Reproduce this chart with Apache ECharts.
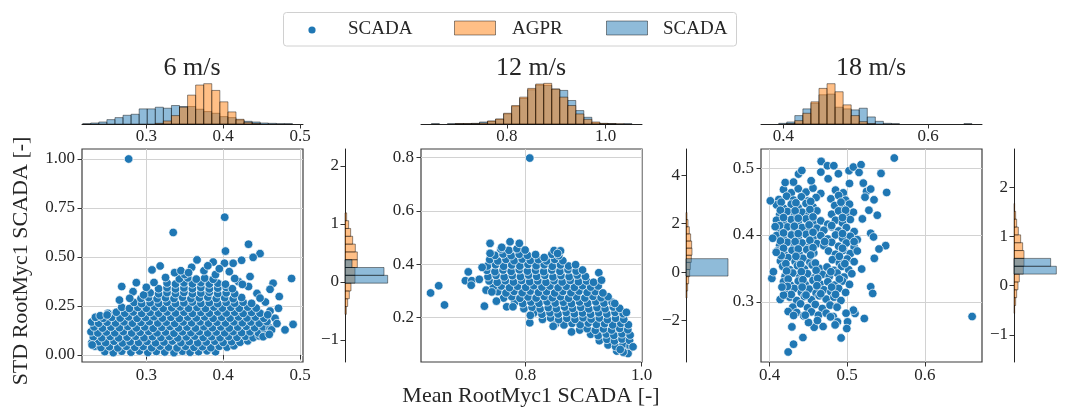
<!DOCTYPE html>
<html><head><meta charset="utf-8">
<script src="https://cdn.jsdelivr.net/npm/echarts@6.0.0/dist/echarts.min.js"></script>
<style>html,body{margin:0;padding:0;background:#fff}#c{width:1067px;height:410px}</style>
</head><body><div id="c"></div>
<script>
// ---------------- DATA ----------------
const titles = ['6 m/s', '12 m/s', '18 m/s'];
const xLabel = 'Mean RootMyc1 SCADA [-]';
const yLabel = 'STD RootMyc1 SCADA [-]';
const legendNames = ['SCADA', 'AGPR', 'SCADA'];

// tick labels
const xTicks6 = [0.3, 0.4, 0.5], yTicks6 = [0, 0.25, 0.5, 0.75, 1.0], hxTicks6 = [0.3, 0.4, 0.5], ryTicks6 = [-1, 0, 1, 2];
const xTicks12 = [0.8, 1.0], yTicks12 = [0.2, 0.4, 0.6, 0.8], hxTicks12 = [0.8, 1.0], ryTicks12 = [-2, 0, 2, 4];
const xTicks18 = [0.4, 0.5, 0.6], yTicks18 = [0.3, 0.4, 0.5], hxTicks18 = [0.4, 0.6], ryTicks18 = [-1, 0, 1, 2];

// top (mean) histograms: first bin edge, bin width, counts
const top6Start = 0.2172, top6Width = 0.0105;
const top6Scada = [1,3,6,13,19,26,29,45,45,50,47,55,52,52,44,37,32,22,19,12,8,6,3,2,1,1];
const top6Agpr  = [0,0,0,0,0,0,0,0,0,2,9,25,50,86,116,120,100,66,36,14,5,2,0,0,0,0];
const top12Start = 0.6466, top12Width = 0.01628;
const top12Scada = [1,0,1,1,1,2,6,8,14,30,52,76,102,116,115,104,100,70,40,20,3,1,1,0,1,0];
const top12Agpr  = [0,0,0,1,1,1,3,9,15,32,55,80,106,119,121,104,80,55,30,14,6,2,1,1,0,0];
const top18Start = 0.3935, top18Width = 0.01113;
const top18Scada = [2,6,25,45,62,87,89,50,45,42,47,21,8,2,1,0,0,0,0,0,0,0,0,1];
const top18Agpr  = [0,1,10,32,66,106,120,96,57,25,7,1,0,0,0,0,0,0,0,0,0,0,0,0];

// right (std) histograms
const right6AgprStart = -0.56, right6AgprWidth = 0.1345;
const right6Agpr = [4,8,13,18,30,30,37,37,31,23,17,11,5];
const right6ScadaStart = -0.022, right6ScadaWidth = 0.1345;
const right6Scada = [128,117,21];
const right12AgprStart = -1.07, right12AgprWidth = 0.294;
const right12Agpr = [3,5,8,11,13,16,18,17,14,10,6,3];
const right12ScadaStart = -0.166, right12ScadaWidth = 0.719;
const right12Scada = [126];
const right18AgprStart = -0.5615, right18AgprWidth = 0.1597;
const right18Agpr = [2,5,8,12,16,28,30,30,26,20,13,8,5,2];
const right18ScadaStart = 0.237, right18ScadaWidth = 0.1597;
const right18Scada = [127,110];

// scatter points [mean, std]
const scatter6 = [
[0.246,0.017],[0.257,0.012],[0.268,0.019],[0.280,0.014],[0.291,0.020],[0.302,0.013],[0.313,0.018],[0.324,0.015],[0.336,0.012],[0.347,0.019],[0.357,0.014],[0.368,0.017],[0.379,0.021],[0.390,0.016],
[0.233,0.045],[0.241,0.038],[0.252,0.042],[0.263,0.036],[0.274,0.044],[0.285,0.039],[0.296,0.043],[0.307,0.037],[0.318,0.045],[0.329,0.040],[0.340,0.036],[0.351,0.044],[0.362,0.039],[0.373,0.042],[0.384,0.037],[0.395,0.044],[0.405,0.040],[0.414,0.047],
[0.229,0.062],[0.238,0.068],[0.247,0.063],[0.258,0.070],[0.269,0.061],[0.279,0.067],[0.290,0.064],[0.301,0.069],[0.312,0.062],[0.323,0.066],[0.334,0.071],[0.345,0.063],[0.356,0.068],[0.367,0.062],[0.378,0.066],[0.389,0.070],[0.400,0.064],[0.411,0.068],[0.422,0.065],[0.432,0.072],
[0.231,0.092],[0.242,0.088],[0.253,0.094],[0.264,0.087],[0.275,0.091],[0.286,0.095],[0.297,0.088],[0.308,0.093],[0.319,0.089],[0.330,0.094],[0.341,0.087],[0.352,0.092],[0.363,0.096],[0.374,0.089],[0.385,0.093],[0.396,0.088],[0.407,0.094],[0.418,0.090],[0.429,0.095],[0.439,0.088],[0.447,0.097],
[0.228,0.118],[0.237,0.112],[0.248,0.117],[0.259,0.113],[0.270,0.119],[0.281,0.112],[0.292,0.116],[0.303,0.120],[0.314,0.113],[0.325,0.117],[0.336,0.111],[0.347,0.118],[0.358,0.114],[0.369,0.119],[0.380,0.112],[0.391,0.117],[0.402,0.113],[0.413,0.119],[0.424,0.114],[0.435,0.118],[0.446,0.112],[0.455,0.120],
[0.232,0.143],[0.243,0.137],[0.254,0.142],[0.265,0.139],[0.276,0.145],[0.287,0.138],[0.298,0.143],[0.309,0.136],[0.320,0.141],[0.331,0.145],[0.342,0.138],[0.353,0.142],[0.364,0.137],[0.375,0.144],[0.386,0.139],[0.397,0.143],[0.408,0.137],[0.419,0.142],[0.430,0.146],[0.441,0.139],[0.452,0.143],[0.461,0.137],
[0.229,0.168],[0.238,0.162],[0.249,0.167],[0.260,0.163],[0.271,0.169],[0.282,0.162],[0.293,0.166],[0.304,0.170],[0.315,0.163],[0.326,0.167],[0.337,0.161],[0.348,0.168],[0.359,0.164],[0.370,0.169],[0.381,0.162],[0.392,0.167],[0.403,0.163],[0.414,0.169],[0.425,0.164],[0.436,0.168],[0.447,0.162],[0.457,0.170],
[0.234,0.193],[0.244,0.187],[0.255,0.192],[0.266,0.188],[0.277,0.194],[0.288,0.187],[0.299,0.191],[0.310,0.195],[0.321,0.188],[0.332,0.192],[0.343,0.186],[0.354,0.193],[0.365,0.189],[0.376,0.194],[0.387,0.187],[0.398,0.192],[0.409,0.188],[0.420,0.194],[0.431,0.189],[0.442,0.193],[0.453,0.187],
[0.250,0.212],[0.261,0.218],[0.272,0.213],[0.283,0.219],[0.294,0.212],[0.305,0.217],[0.316,0.213],[0.327,0.219],[0.338,0.214],[0.349,0.218],[0.360,0.212],[0.371,0.217],[0.382,0.213],[0.393,0.219],[0.404,0.214],[0.415,0.218],[0.426,0.212],[0.437,0.217],[0.448,0.213],
[0.268,0.243],[0.278,0.237],[0.289,0.242],[0.300,0.238],[0.311,0.244],[0.322,0.237],[0.333,0.241],[0.344,0.245],[0.355,0.238],[0.366,0.242],[0.377,0.237],[0.388,0.244],[0.399,0.239],[0.410,0.243],[0.421,0.238],[0.432,0.244],[0.443,0.239],
[0.284,0.268],[0.294,0.262],[0.305,0.267],[0.316,0.263],[0.327,0.269],[0.338,0.262],[0.349,0.266],[0.360,0.270],[0.371,0.263],[0.382,0.267],[0.393,0.262],[0.404,0.268],[0.415,0.264],[0.426,0.269],[0.437,0.263],
[0.293,0.288],[0.303,0.293],[0.314,0.287],[0.325,0.292],[0.336,0.288],[0.347,0.294],[0.358,0.287],[0.369,0.291],[0.380,0.295],[0.391,0.288],[0.402,0.292],[0.413,0.287],[0.424,0.293],
[0.305,0.317],[0.316,0.312],[0.327,0.318],[0.338,0.313],[0.349,0.319],[0.360,0.312],[0.371,0.316],[0.382,0.320],[0.393,0.313],[0.404,0.317],[0.415,0.312],
[0.316,0.338],[0.327,0.343],[0.338,0.337],[0.349,0.342],[0.360,0.338],[0.371,0.344],[0.382,0.337],[0.393,0.341],[0.404,0.345],[0.412,0.338],
[0.327,0.367],[0.338,0.362],[0.349,0.368],[0.360,0.363],[0.371,0.369],[0.382,0.362],[0.393,0.366],[0.403,0.361],
[0.343,0.388],[0.354,0.393],[0.365,0.387],[0.376,0.392],[0.387,0.386],
[0.277,1.0],[0.402,0.703],[0.335,0.625],[0.433,0.565],[0.403,0.530],[0.448,0.517],[0.439,0.498],[0.424,0.483],[0.413,0.468],[0.4017,0.468],[0.387,0.474],[0.366,0.485],[0.359,0.447],[0.408,0.425],[0.489,0.39],[0.465,0.366],[0.461,0.335],[0.473,0.298],[0.444,0.314],[0.433,0.349],[0.42,0.374],[0.435,0.40],[0.472,0.238],[0.461,0.224],[0.4675,0.187],[0.491,0.156],[0.4805,0.128],[0.463,0.128],[0.452,0.093],[0.318,0.454],[0.3074,0.434],[0.3368,0.42],[0.268,0.349],[0.287,0.369],[0.2827,0.323],[0.265,0.28],[0.2784,0.289],[0.2965,0.306],[0.2295,0.051],[0.2338,0.192],[0.24,0.20],[0.249,0.204],
[0.35,0.41],[0.325,0.395],[0.345,0.43],[0.375,0.43],[0.39,0.41],[0.31,0.37],[0.30,0.345],[0.395,0.44],[0.38,0.455],[0.355,0.42],[0.455,0.27],[0.448,0.29],[0.458,0.205],[0.47,0.16],[0.46,0.105],[0.425,0.36],[0.415,0.39]
];

const scatter12 = [
[0.957,0.074],[0.970,0.068],[0.978,0.080],
[0.942,0.097],[0.955,0.091],[0.968,0.099],[0.980,0.093],
[0.927,0.113],[0.940,0.118],[0.953,0.112],[0.966,0.119],[0.979,0.114],
[0.912,0.137],[0.925,0.132],[0.939,0.138],[0.952,0.133],[0.966,0.139],[0.980,0.134],
[0.893,0.153],[0.906,0.158],[0.920,0.152],[0.934,0.157],[0.948,0.153],[0.962,0.159],[0.976,0.154],
[0.852,0.177],[0.866,0.172],[0.880,0.178],[0.894,0.173],[0.908,0.179],[0.922,0.174],[0.936,0.177],[0.950,0.172],[0.964,0.178],[0.977,0.173],
[0.829,0.193],[0.843,0.198],[0.857,0.192],[0.871,0.197],[0.885,0.193],[0.899,0.199],[0.913,0.194],[0.927,0.198],[0.941,0.192],[0.955,0.197],[0.969,0.193],
[0.814,0.217],[0.828,0.212],[0.842,0.218],[0.856,0.213],[0.870,0.219],[0.884,0.214],[0.898,0.217],[0.912,0.212],[0.926,0.218],[0.940,0.213],[0.954,0.219],[0.968,0.214],
[0.797,0.233],[0.811,0.238],[0.825,0.232],[0.839,0.237],[0.853,0.233],[0.867,0.239],[0.881,0.234],[0.895,0.238],[0.909,0.232],[0.923,0.237],[0.937,0.233],[0.951,0.239],[0.962,0.234],
[0.781,0.257],[0.795,0.252],[0.809,0.258],[0.823,0.253],[0.837,0.259],[0.851,0.254],[0.865,0.257],[0.879,0.252],[0.893,0.258],[0.907,0.253],[0.921,0.259],[0.935,0.254],[0.949,0.257],
[0.762,0.273],[0.776,0.278],[0.790,0.272],[0.804,0.277],[0.818,0.273],[0.832,0.279],[0.846,0.274],[0.860,0.278],[0.874,0.272],[0.888,0.277],[0.902,0.273],[0.916,0.279],[0.930,0.274],[0.942,0.278],
[0.752,0.297],[0.766,0.292],[0.780,0.298],[0.794,0.293],[0.808,0.299],[0.822,0.294],[0.836,0.297],[0.850,0.292],[0.864,0.298],[0.878,0.293],[0.892,0.299],[0.906,0.294],[0.920,0.297],[0.933,0.292],
[0.744,0.313],[0.758,0.318],[0.772,0.312],[0.786,0.317],[0.800,0.313],[0.814,0.319],[0.828,0.314],[0.842,0.318],[0.856,0.312],[0.870,0.317],[0.884,0.313],[0.898,0.319],[0.912,0.314],[0.925,0.318],
[0.737,0.337],[0.751,0.332],[0.765,0.338],[0.779,0.333],[0.793,0.339],[0.807,0.334],[0.821,0.337],[0.835,0.332],[0.849,0.338],[0.863,0.333],[0.877,0.339],[0.891,0.334],[0.905,0.337],[0.917,0.332],
[0.735,0.353],[0.749,0.358],[0.763,0.352],[0.777,0.357],[0.791,0.353],[0.805,0.359],[0.819,0.354],[0.833,0.358],[0.847,0.352],[0.861,0.357],[0.875,0.353],[0.889,0.359],[0.903,0.354],
[0.733,0.377],[0.747,0.372],[0.761,0.378],[0.775,0.373],[0.789,0.379],[0.803,0.374],[0.817,0.377],[0.831,0.372],[0.845,0.378],[0.859,0.373],[0.873,0.379],[0.887,0.374],[0.898,0.378],
[0.734,0.393],[0.748,0.398],[0.762,0.392],[0.776,0.397],[0.790,0.393],[0.804,0.399],[0.818,0.394],[0.832,0.398],[0.846,0.392],[0.860,0.397],[0.874,0.393],[0.886,0.398],
[0.738,0.417],[0.752,0.412],[0.766,0.418],[0.780,0.413],[0.794,0.419],[0.808,0.414],[0.822,0.417],[0.836,0.412],[0.850,0.418],[0.864,0.413],
[0.747,0.433],[0.761,0.438],[0.775,0.432],[0.789,0.437],[0.803,0.433],[0.817,0.436],[0.845,0.437],[0.857,0.432],
[0.757,0.457],[0.771,0.452],[0.785,0.458],[0.799,0.453],[0.849,0.451],
[0.807,0.798],[0.636,0.292],[0.650,0.319],[0.660,0.247],[0.701,0.371],[0.696,0.338],[0.707,0.338],[0.706,0.321],[0.72,0.343],[0.7288,0.2425],[0.7318,0.3026],[0.7386,0.4406],[0.7386,0.478],[0.7249,0.388],[0.7495,0.2613],[0.7416,0.296],[0.7587,0.463],[0.773,0.484],[0.789,0.478],[0.7673,0.24],[0.778,0.24],[0.807,0.18],[0.808,0.208],[0.879,0.146],[0.926,0.368],[0.9307,0.34],[0.8474,0.167],[0.9764,0.0647],[0.985,0.09],[0.968,0.07],[0.963,0.08],[0.9736,0.219],[0.9535,0.2526],[0.86,0.45],[0.855,0.44],[0.832,0.425]
];

const scatter18 = [
[0.418,0.468],[0.428,0.463],[0.437,0.469],[0.447,0.464],[0.456,0.470],[0.466,0.462],[0.485,0.467],[0.495,0.463],
[0.412,0.453],[0.422,0.458],[0.431,0.452],[0.441,0.457],[0.450,0.451],[0.460,0.456],[0.479,0.454],[0.489,0.459],[0.498,0.452],
[0.409,0.445],[0.418,0.440],[0.428,0.446],[0.437,0.441],[0.447,0.447],[0.456,0.442],[0.484,0.444],[0.494,0.440],[0.503,0.446],
[0.413,0.430],[0.423,0.435],[0.432,0.429],[0.442,0.434],[0.451,0.430],[0.461,0.436],[0.480,0.431],[0.489,0.436],[0.499,0.430],[0.508,0.434],
[0.409,0.422],[0.418,0.417],[0.428,0.423],[0.437,0.418],[0.447,0.424],[0.456,0.419],[0.466,0.421],[0.475,0.416],[0.485,0.422],[0.494,0.418],[0.504,0.423],
[0.413,0.407],[0.423,0.412],[0.432,0.406],[0.442,0.411],[0.451,0.405],[0.461,0.410],[0.470,0.407],[0.480,0.412],[0.489,0.406],[0.499,0.411],[0.509,0.405],
[0.409,0.399],[0.418,0.394],[0.428,0.400],[0.437,0.395],[0.447,0.401],[0.456,0.396],[0.466,0.399],[0.475,0.394],[0.485,0.400],[0.494,0.395],[0.504,0.398],[0.513,0.393],
[0.413,0.384],[0.423,0.389],[0.432,0.383],[0.442,0.388],[0.451,0.382],[0.461,0.387],[0.470,0.384],[0.480,0.389],[0.489,0.383],[0.499,0.388],[0.509,0.382],
[0.410,0.376],[0.419,0.371],[0.429,0.377],[0.438,0.372],[0.448,0.378],[0.457,0.373],[0.476,0.376],[0.485,0.371],[0.495,0.377],[0.504,0.372],[0.513,0.376],
[0.414,0.361],[0.424,0.366],[0.433,0.360],[0.443,0.365],[0.452,0.359],[0.481,0.363],[0.490,0.358],[0.500,0.364],[0.509,0.360],
[0.417,0.353],[0.426,0.348],[0.436,0.354],[0.445,0.349],[0.455,0.355],[0.464,0.350],[0.474,0.352],[0.483,0.347],[0.493,0.353],[0.502,0.348],
[0.420,0.338],[0.430,0.343],[0.439,0.337],[0.449,0.342],[0.458,0.336],[0.468,0.341],[0.477,0.338],[0.487,0.343],[0.496,0.337],[0.506,0.342],
[0.418,0.330],[0.427,0.325],[0.437,0.331],[0.446,0.326],[0.456,0.332],[0.465,0.327],[0.475,0.330],[0.484,0.325],[0.494,0.331],[0.503,0.326],
[0.422,0.315],[0.432,0.320],[0.441,0.314],[0.451,0.319],[0.460,0.313],[0.470,0.318],[0.479,0.315],[0.489,0.320],[0.498,0.314],
[0.426,0.307],[0.435,0.302],[0.445,0.308],[0.454,0.303],[0.464,0.309],[0.473,0.304],[0.483,0.307],[0.492,0.302],
[0.430,0.292],[0.440,0.297],[0.449,0.291],[0.459,0.296],[0.468,0.290],[0.478,0.295],[0.487,0.292],
[0.435,0.284],[0.444,0.279],[0.454,0.285],[0.463,0.280],[0.473,0.283],[0.482,0.278],
[0.415,0.449],[0.434,0.448],[0.453,0.450],[0.492,0.449],
[0.414,0.437],[0.433,0.436],[0.452,0.438],[0.498,0.437],
[0.418,0.426],[0.437,0.425],[0.456,0.427],[0.494,0.426],
[0.413,0.414],[0.432,0.413],[0.451,0.415],[0.480,0.414],
[0.418,0.403],[0.437,0.402],[0.456,0.404],[0.494,0.402],
[0.414,0.391],[0.433,0.390],[0.452,0.392],[0.471,0.390],[0.509,0.390],
[0.418,0.380],[0.437,0.379],[0.456,0.381],[0.494,0.380],
[0.415,0.369],[0.434,0.368],[0.453,0.370],[0.490,0.368],
[0.421,0.357],[0.440,0.356],[0.459,0.358],[0.497,0.357],
[0.422,0.346],[0.441,0.345],[0.460,0.347],[0.479,0.345],
[0.424,0.334],[0.443,0.333],[0.462,0.335],[0.490,0.334],
[0.423,0.323],[0.442,0.322],[0.461,0.324],[0.480,0.322],
[0.428,0.311],[0.447,0.310],[0.466,0.312],[0.485,0.311],
[0.401,0.451],[0.404,0.395],[0.403,0.335],[0.405,0.345],[0.4073,0.4124],[0.4086,0.374],[0.424,0.225],[0.4309,0.2366],[0.443,0.2466],[0.4288,0.2625],[0.4202,0.4784],[0.4309,0.479],[0.4373,0.491],[0.4416,0.4964],[0.4536,0.481],[0.4665,0.51],[0.4661,0.494],[0.4746,0.5035],[0.4828,0.5035],[0.4755,0.484],[0.4887,0.4915],[0.5024,0.496],[0.508,0.5015],[0.5179,0.505],[0.5153,0.4934],[0.503,0.477],[0.5208,0.4775],[0.525,0.465],[0.523,0.4565],[0.5303,0.4686],[0.5346,0.4525],[0.5436,0.492],[0.5509,0.4635],[0.5388,0.4295],[0.528,0.437],[0.5196,0.424],[0.5303,0.4025],[0.534,0.397],[0.5496,0.384],[0.541,0.379],[0.535,0.365],[0.5187,0.349],[0.5303,0.3225],[0.5329,0.3125],[0.5221,0.275],[0.5101,0.2826],[0.508,0.2875],[0.4986,0.283],[0.5005,0.27],[0.4995,0.26],[0.4922,0.246],[0.4875,0.27],[0.4785,0.2775],[0.4845,0.2655],[0.469,0.263],[0.4575,0.262],[0.4617,0.272],[0.4502,0.269],[0.446,0.28],[0.661,0.278],[0.5607,0.515],[0.4137,0.3035],[0.418,0.31],[0.416,0.322],[0.424,0.2855],[0.431,0.2795]
];

// ---------------- STYLE / LAYOUT ----------------
const FF = 'Liberation Serif';
const TXT = '#262626';
const BLUE = '#1f77b4';
const BLUE_A = 'rgba(31,119,180,0.5)';
const ORANGE_A = 'rgba(255,127,14,0.5)';
const EDGE = 'rgba(0,0,0,0.55)';

const panels = [
  {left: 82, rleft: 345, xr: [0.2163, 0.5039], xi: 0.1, xt: xTicks6, yr: [-0.036, 1.051], yi: 0.25, yt: yTicks6, yd: 2,
   hxr: [0.2163, 0.5039], hxi: 0.1, hxt: hxTicks6, ryr: [-1.381, 2.289], ryi: 1, ryt: ryTicks6, pts: scatter6,
   top: [top6Start, top6Width, top6Scada, top6Agpr],
   right: [right6AgprStart, right6AgprWidth, right6Agpr, right6ScadaStart, right6ScadaWidth, right6Scada]},
  {left: 421, rleft: 686, xr: [0.6195, 1.0005], xi: 0.2, xt: xTicks12, yr: [0.033, 0.832], yi: 0.2, yt: yTicks12, yd: 1,
   hxr: [0.6255, 1.074], hxi: 0.2, hxt: hxTicks12, ryr: [-3.712, 5.078], ryi: 2, ryt: ryTicks12, pts: scatter12,
   top: [top12Start, top12Width, top12Scada, top12Agpr],
   right: [right12AgprStart, right12AgprWidth, right12Agpr, right12ScadaStart, right12ScadaWidth, right12Scada]},
  {left: 761, rleft: 1014, xr: [0.389, 0.6737], xi: 0.1, xt: xTicks18, yr: [0.21, 0.5285], yi: 0.1, yt: yTicks18, yd: 1,
   hxr: [0.369, 0.6745], hxi: 0.2, hxt: hxTicks18, ryr: [-1.552, 2.783], ryi: 1, ryt: ryTicks18, pts: scatter18,
   top: [top18Start, top18Width, top18Scada, top18Agpr],
   right: [right18AgprStart, right18AgprWidth, right18Agpr, right18ScadaStart, right18ScadaWidth, right18Scada]}
];

function bins(start, width, counts) {
  return counts.map((c, i) => [start + i * width, start + (i + 1) * width, c]);
}
function fmt(v, d) { return (v < 0 ? '\u2212' : '') + Math.abs(v).toFixed(d); }

function valAxis(gi, range, iv, ticks, dec, extra) {
  return Object.assign({
    type: 'value', gridIndex: gi, min: range[0], max: range[1], minInterval: iv, maxInterval: iv,
    axisLine: {show: false},
    axisTick: {show: true, length: 4.5, lineStyle: {color: '#333', width: 1}, customValues: ticks},
    axisLabel: {show: true, customValues: ticks, formatter: v => fmt(v, dec), fontFamily: FF, fontSize: 17, color: TXT, margin: 5},
    splitLine: {show: true, lineStyle: {color: '#d2d2d2', width: 1}}
  }, extra || {});
}

function vbar(fill) {
  return function (params, api) {
    const lo = api.value(0), hi = api.value(1), h = api.value(2);
    if (!h) return null;
    const a = api.coord([lo, 0]), b = api.coord([hi, h]);
    return {type: 'rect', shape: {x: a[0], y: b[1], width: b[0] - a[0], height: a[1] - b[1]},
      style: {fill: fill, stroke: EDGE, lineWidth: 0.8}};
  };
}
function hbar(fill) {
  return function (params, api) {
    const lo = api.value(0), hi = api.value(1), l = api.value(2);
    if (!l) return null;
    const a = api.coord([0, lo]), b = api.coord([l, hi]);
    return {type: 'rect', shape: {x: a[0], y: b[1], width: b[0] - a[0], height: a[1] - b[1]},
      style: {fill: fill, stroke: EDGE, lineWidth: 0.8}};
  };
}

const grids = [], xAxes = [], yAxes = [], series = [];
panels.forEach(p => {
  const g = grids.length;
  grids.push({left: p.left, top: 80, width: 221, height: 44});
  grids.push({left: p.left, top: 149, width: 221, height: 213, show: true, borderColor: '#3c3c3c', borderWidth: 1.2, backgroundColor: 'transparent'});
  grids.push({left: p.rleft, top: 149, width: 50, height: 213});

  // top histogram
  xAxes.push(valAxis(g, p.hxr, p.hxi, p.hxt, 1, {
    axisLine: {show: true, lineStyle: {color: '#222', width: 1}},
    splitLine: {show: false},
    axisLabel: {show: true, customValues: p.hxt, formatter: v => fmt(v, 1), fontFamily: FF, fontSize: 17, color: TXT, margin: 4}
  }));
  yAxes.push({type: 'value', gridIndex: g, min: 0, max: 131, show: false});
  // scatter
  xAxes.push(valAxis(g + 1, p.xr, p.xi, p.xt, 1));
  yAxes.push(valAxis(g + 1, p.yr, p.yi, p.yt, p.yd, {
    axisLabel: {show: true, customValues: p.yt, formatter: v => fmt(v, p.yd), fontFamily: FF, fontSize: 17, color: TXT, margin: 7}
  }));
  // right histogram
  xAxes.push({type: 'value', gridIndex: g + 2, min: 0, max: 150, show: false});
  yAxes.push(valAxis(g + 2, p.ryr, p.ryi, p.ryt, 0, {
    axisLine: {show: true, lineStyle: {color: '#222', width: 1}},
    splitLine: {show: false},
    axisLabel: {show: true, customValues: p.ryt, formatter: v => fmt(v, 0), fontFamily: FF, fontSize: 17, color: TXT, margin: 6}
  }));

  const t = p.top, r = p.right;
  series.push({type: 'custom', xAxisIndex: g, yAxisIndex: g, encode: {x: [0, 1], y: 2}, data: bins(t[0], t[1], t[2]), renderItem: vbar(BLUE_A), silent: true, z: 2});
  series.push({type: 'custom', xAxisIndex: g, yAxisIndex: g, encode: {x: [0, 1], y: 2}, data: bins(t[0], t[1], t[3]), renderItem: vbar(ORANGE_A), silent: true, z: 3});
  series.push({type: 'scatter', xAxisIndex: g + 1, yAxisIndex: g + 1, data: p.pts, symbol: 'circle', symbolSize: 8.6,
    itemStyle: {color: BLUE, borderColor: '#ffffff', borderWidth: 0.7, opacity: 1}, silent: true, z: 3});
  series.push({type: 'custom', xAxisIndex: g + 2, yAxisIndex: g + 2, encode: {x: 2, y: [0, 1]}, data: bins(r[0], r[1], r[2]), renderItem: hbar(ORANGE_A), silent: true, z: 2});
  series.push({type: 'custom', xAxisIndex: g + 2, yAxisIndex: g + 2, encode: {x: 2, y: [0, 1]}, data: bins(r[3], r[4], r[5]), renderItem: hbar(BLUE_A), silent: true, z: 3});
});

const titleX = [192, 531, 871];
const graphic = [];
titles.forEach((t, i) => graphic.push({type: 'text', x: titleX[i], y: 68,
  style: {text: t, fontFamily: FF, fontSize: 26, fill: TXT, align: 'center', verticalAlign: 'middle'}}));
graphic.push({type: 'text', x: 531, y: 396, style: {text: xLabel, fontFamily: FF, fontSize: 22, fill: TXT, align: 'center', verticalAlign: 'middle'}});
graphic.push({type: 'text', x: 21, y: 261, rotation: Math.PI / 2, style: {text: yLabel, fontFamily: FF, fontSize: 22, fill: TXT, align: 'center', verticalAlign: 'middle'}});
// legend
graphic.push({type: 'rect', shape: {x: 283.5, y: 12.5, width: 453, height: 33.5, r: 3}, style: {fill: '#fff', stroke: '#d0d0d0', lineWidth: 1}});
graphic.push({type: 'circle', shape: {cx: 312, cy: 30, r: 3.6}, style: {fill: BLUE}});
graphic.push({type: 'rect', shape: {x: 454.5, y: 21, width: 41, height: 14}, style: {fill: ORANGE_A, stroke: EDGE, lineWidth: 0.8}});
graphic.push({type: 'rect', shape: {x: 606.5, y: 21, width: 41, height: 14}, style: {fill: BLUE_A, stroke: EDGE, lineWidth: 0.8}});
const legX = [348, 512, 663];
legendNames.forEach((n, i) => graphic.push({type: 'text', x: legX[i], y: 29,
  style: {text: n, fontFamily: FF, fontSize: 19, fill: TXT, align: 'left', verticalAlign: 'middle'}}));

const chart = echarts.init(document.getElementById('c'), null, {renderer: 'canvas'});
chart.setOption({
  backgroundColor: '#ffffff',
  animation: false,
  textStyle: {fontFamily: FF},
  grid: grids, xAxis: xAxes, yAxis: yAxes, series: series, graphic: graphic
});
</script></body></html>
